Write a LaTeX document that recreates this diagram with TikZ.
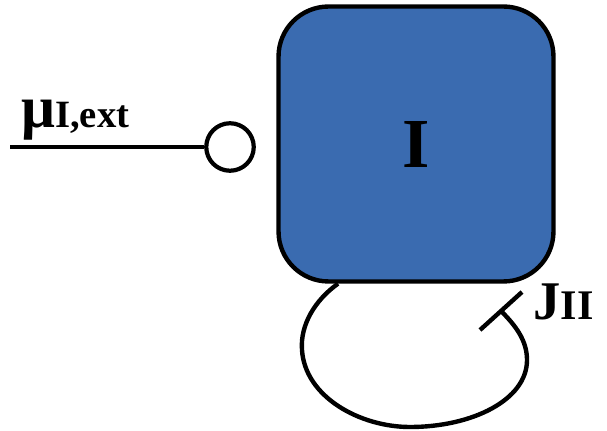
\documentclass[tikz,border=0pt]{standalone}
\usepackage{fontspec}
\setmainfont{Liberation Serif}
\usetikzlibrary{positioning, calc}
\definecolor{cellblue}{HTML}{3A6BB0}

\begin{document}
\begin{tikzpicture}[
        x=0.02cm, y=-0.02cm,
        cell/.style={rectangle, draw, line width=2.5pt, fill=cellblue, rounded corners=1cm, minimum width=5.5cm, minimum height=5.5cm, font=\fontsize{40}{40}\selectfont\bfseries},
        port/.style={circle, draw, line width=2.4pt, minimum size=0.95cm, inner sep=0pt, fill=white},
        wire/.style={line width=2.5pt},
        lbl/.style={inner sep=0pt, font=\bfseries}
    ]
        \useasboundingbox (0,0) rectangle (607,431);

        % compartment and input port
        \node (cell) [cell] at (416,144) {I};
        \node (port) [port] at (230,147) {};
        \coordinate (ext) at (10,147);
        \node (mulabel) [lbl, anchor=base west] at (21,128) {{\fontsize{34}{34}\selectfont μ}{\fontsize{22}{22}\selectfont I,ext}};

        % input wire
        \draw [wire] (ext) -- (port);

        % self loop
        \coordinate (loopstart) at ($(cell.south)+(-1.56cm,0)$);
        \coordinate (loopend) at (501,311);
        \coordinate (barA) at (480,330);
        \coordinate (barB) at (522,292);
        \draw [wire] (loopstart) .. controls (315,300) and (300,325) .. (302,350)
            .. controls (305,397) and (360,427) .. (410,427)
            .. controls (472,427) and (527,400) .. (527,360)
            .. controls (527,340) and (515,325) .. (loopend);
        \draw [wire] (barA) -- (barB);
        \node (jlabel) [lbl, anchor=base west] at (533,320) {{\fontsize{31}{31}\selectfont J}{\fontsize{24}{24}\selectfont II}};
    \end{tikzpicture}
\end{document}
